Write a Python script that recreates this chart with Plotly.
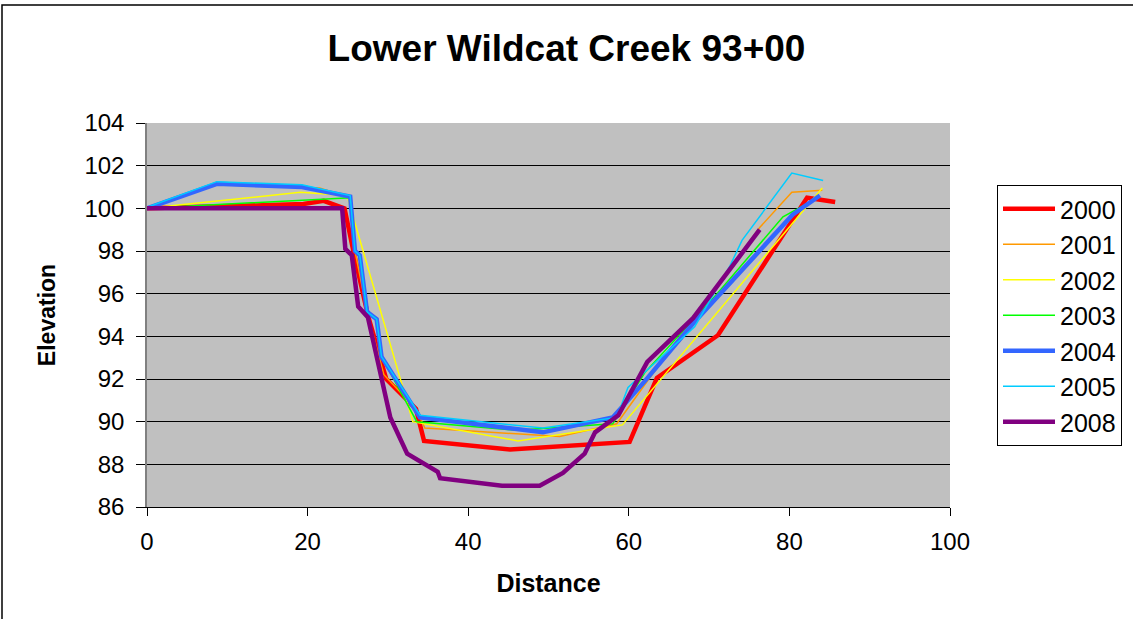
import plotly.graph_objects as go

years = ["2000", "2001", "2002", "2003", "2004", "2005", "2008"]

x2000 = [0, 19.5, 22, 24.6, 25.7, 27.5, 29.8, 33.5, 34.5, 45.2, 60.1, 63.5, 71.1, 82.2, 85.7]
y2000 = [100, 100.2, 100.35, 100.0, 98.0, 95.0, 92.0, 90.6, 89.1, 88.7, 89.05, 92.05, 94.05, 100.5, 100.3]

x2001 = [0, 8.7, 21.5, 25.3, 25.9, 27.5, 29.5, 33.5, 34.6, 51.4, 58.5, 62.5, 76.3, 80.3, 84.1]
y2001 = [100, 101.1, 100.95, 100.5, 98.0, 95.0, 92.2, 90.6, 89.7, 89.3, 89.9, 92.0, 99.1, 100.75, 100.85]

x2002 = [0, 19.1, 24.9, 33.1, 46.2, 59.2, 84.1]
y2002 = [100, 100.75, 100.6, 90.0, 89.1, 89.85, 100.95]

x2003 = [0, 25.3, 25.9, 26.5, 27.4, 28.6, 29.2, 33.6, 46.0, 58.0, 62.0, 71.0, 79.2, 83.8]
y2003 = [100, 100.5, 98.0, 97.8, 95.15, 94.8, 93.05, 90.0, 89.6, 89.9, 92.3, 96.0, 99.6, 100.55]

x2004 = [0, 8.7, 19.3, 25.3, 25.9, 26.5, 27.4, 28.6, 29.2, 34.0, 49.3, 58.0, 62.0, 68.0, 80.4, 83.8]
y2004 = [100, 101.15, 101.0, 100.55, 98.0, 97.8, 95.15, 94.8, 93.05, 90.2, 89.5, 90.2, 91.9, 94.6, 99.7, 100.6]

x2005 = [0, 8.7, 19.3, 25.3, 25.9, 26.5, 27.4, 28.6, 29.2, 34.0, 49.3, 58.5, 59.9, 68.2, 72.6, 74.1, 80.3, 84.2]
y2005 = [100.05, 101.25, 101.1, 100.6, 98.0, 97.8, 95.15, 94.8, 93.05, 90.3, 89.7, 90.2, 91.6, 94.45, 97.3, 98.5, 101.65, 101.3]

x2008 = [0, 24.3, 24.7, 25.5, 26.3, 27.5, 30.3, 32.4, 36.2, 36.5, 44.2, 48.9, 51.8, 54.5, 55.8, 58.7, 62.3, 68.0, 76.3]
y2008 = [100, 100.0, 98.1, 97.8, 95.4, 94.9, 90.2, 88.5, 87.65, 87.35, 87.0, 87.0, 87.6, 88.5, 89.5, 90.3, 92.8, 94.85, 99.0]

xs = [x2000, x2001, x2002, x2003, x2004, x2005, x2008]
ys = [y2000, y2001, y2002, y2003, y2004, y2005, y2008]
colors = ["#FF0000", "#FF9900", "#FFFF00", "#00FF00", "#3366FF", "#00CCFF", "#800080"]
widths = [4.5, 1.5, 1.5, 1.5, 4.5, 1.5, 4.5]

W, H = 1133, 619
L, R, T, B = 147, 183, 123, 112
pw, ph = W - L - R, H - T - B

def px_x(p):
    return (p - L) / pw

def px_y(p):
    return (H - B - p) / ph

FONT = "Liberation Sans, Arial, sans-serif"

fig = go.Figure()
for yr, x, y, c, w in zip(years, xs, ys, colors, widths):
    fig.add_trace(go.Scatter(x=x, y=y, mode="lines", name=yr, legendgroup=yr,
                             line=dict(color=c, width=w)))

fig.update_layout(
    width=W, height=H,
    margin=dict(l=L, r=R, t=T, b=B, autoexpand=False),
    paper_bgcolor="white",
    plot_bgcolor="#C0C0C0",
    font=dict(family=FONT, color="black", size=24),
    title=dict(text="<b>Lower Wildcat Creek 93+00</b>", x=0.5, xanchor="center",
               y=1 - 48 / H, yanchor="middle", font=dict(size=37, family=FONT)),
    xaxis=dict(range=[0, 100], tickvals=[0, 20, 40, 60, 80, 100], showgrid=False,
               zeroline=False, showline=True, linecolor="black", linewidth=1,
               ticks="outside", ticklen=8, tickcolor="black",
               tickfont=dict(size=24), ticklabelstandoff=5,
               title=dict(text="<b>Distance</b>", font=dict(size=25), standoff=20)),
    yaxis=dict(range=[86, 104], tickvals=list(range(86, 105, 2)), showgrid=True,
               gridcolor="black", gridwidth=1, zeroline=False, showline=True,
               linecolor="#808080", linewidth=1.5, ticks="outside", ticklen=9,
               tickcolor="black", tickfont=dict(size=24), ticklabelstandoff=7,
               title=dict(text="<b>Elevation</b>", font=dict(size=23), standoff=22)),
    legend=dict(x=px_x(997), y=px_y(185), xanchor="left", yanchor="top",
                bordercolor="black", borderwidth=1, bgcolor="white",
                font=dict(size=25, family=FONT), tracegroupgap=0,
                itemwidth=52),
    showlegend=True,
)

fig.add_shape(type="rect", xref="paper", yref="paper",
              x0=px_x(2), x1=px_x(1140), y0=px_y(630), y1=px_y(5),
              line=dict(color="black", width=1.5), fillcolor="rgba(0,0,0,0)",
              layer="below")

fig.write_html("out.html")
